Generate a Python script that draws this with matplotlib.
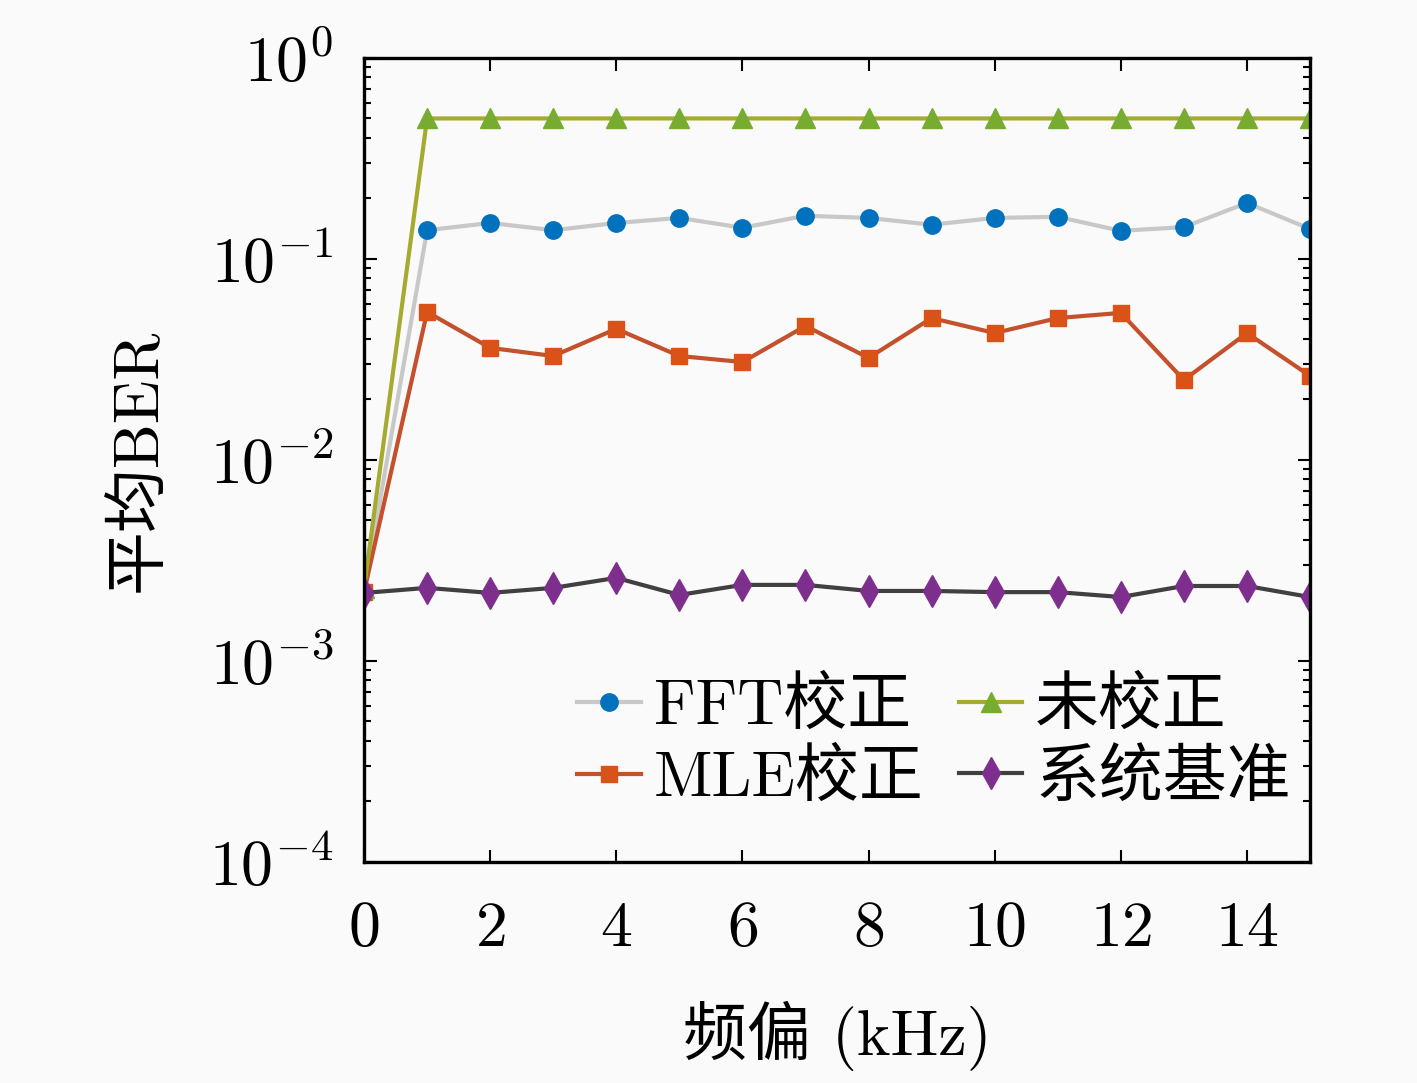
import numpy as np
import matplotlib
matplotlib.use('Agg')
import matplotlib.pyplot as plt
from matplotlib.ticker import LogLocator, FixedLocator, FuncFormatter, NullFormatter

plt.rcParams['font.family'] = ['cmr10', 'Noto Sans CJK SC']
plt.rcParams['mathtext.fontset'] = 'cm'
plt.rcParams['axes.unicode_minus'] = False
plt.rcParams['axes.formatter.use_mathtext'] = True

# Dados
offset_khz = np.arange(0, 16)
ber_fft = [2.2e-3, 0.139, 0.151, 0.139, 0.151, 0.160, 0.143, 0.164,
           0.160, 0.148, 0.160, 0.162, 0.138, 0.144, 0.190, 0.141]
ber_mle = [2.2e-3, 0.0545, 0.0361, 0.0329, 0.0449, 0.0329, 0.0307, 0.0464,
           0.0322, 0.0508, 0.0428, 0.0508, 0.0539, 0.0250, 0.0428, 0.0262]
ber_uncorr = [2.3e-3] + [0.5] * 15
ber_base = [2.18e-3, 2.31e-3, 2.18e-3, 2.31e-3, 2.59e-3, 2.13e-3, 2.39e-3, 2.39e-3,
            2.23e-3, 2.23e-3, 2.20e-3, 2.20e-3, 2.08e-3, 2.36e-3, 2.36e-3, 2.08e-3]

labels = ['FFT校正', 'MLE校正', '未校正', '系统基准']

fig = plt.figure(figsize=(14.17, 10.83), dpi=100, facecolor='#fafafa')
ax = fig.add_axes([0.2569, 0.2041, 0.6676, 0.7424], facecolor='#fafafa')

lw = 3.0
l1, = ax.plot(offset_khz, ber_fft, '-o', color='#c8c8c8', lw=lw,
              mfc='#0072BD', mec='#0072BD', ms=12.5, label=labels[0])
l2, = ax.plot(offset_khz, ber_mle, '-s', color='#c4502c', lw=lw,
              mfc='#D95319', mec='#D95319', ms=11, label=labels[1])
l3, = ax.plot(offset_khz, ber_uncorr, '-^', color='#a5ab2f', lw=lw,
              mfc='#77AC30', mec='#77AC30', ms=14, label=labels[2])
l4, = ax.plot(offset_khz, ber_base, '-d', color='#404040', lw=lw,
              mfc='#7E2F8E', mec='#7E2F8E', ms=16, label=labels[3])

ax.set_yscale('log')
ax.set_ylim(1e-4, 1)
ax.set_xlim(0, 15)
ax.xaxis.set_major_locator(FixedLocator(np.arange(0, 16, 2)))
ax.xaxis.set_major_formatter(FuncFormatter(lambda v, p: r'$%d$' % v))
ax.yaxis.set_major_locator(LogLocator(base=10, numticks=10))
ax.yaxis.set_minor_locator(LogLocator(base=10, subs=np.arange(2, 10), numticks=10))
ax.yaxis.set_minor_formatter(NullFormatter())

ax.tick_params(which='both', direction='in', top=True, right=True,
               labelsize=46, width=1.5)
ax.tick_params(axis='x', pad=28)
ax.tick_params(axis='y', pad=22)
ax.tick_params(which='major', length=9)
ax.tick_params(which='minor', length=5)
for s in ax.spines.values():
    s.set_linewidth(2.4)

ax.set_xlabel('频偏 (kHz)', fontsize=46, labelpad=30)
ax.set_ylabel('平均BER', fontsize=46, labelpad=28)

ax.legend(handles=[l1, l2, l3, l4], ncol=2, loc='lower right',
          bbox_to_anchor=(1.01, 0.03), frameon=False, fontsize=46,
          handlelength=1.0, handletextpad=0.2, columnspacing=0.55,
          labelspacing=0.2, borderaxespad=0.05)

fig.savefig('out.png', dpi=100, facecolor=fig.get_facecolor())
